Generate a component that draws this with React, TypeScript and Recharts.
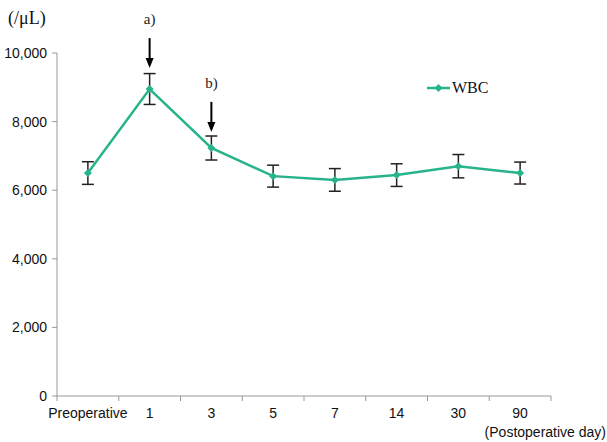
import React from 'react';
import { LineChart, Line, XAxis, YAxis, ErrorBar, ReferenceDot } from 'recharts';

const categories = ['Preoperative', '1', '3', '5', '7', '14', '30', '90'];
const wbcMean = [6500, 8950, 7230, 6410, 6300, 6440, 6700, 6500];
const wbcSd = [330, 450, 350, 320, 330, 330, 340, 320];
const yTicks = [0, 2000, 4000, 6000, 8000, 10000];

const data = categories.map((day, i) => ({ day, wbc: wbcMean[i], sd: wbcSd[i] }));

const GREEN = '#27b38b';
const PLOT_LEFT = 57;
const PLOT_RIGHT = 551;
const BAND = (PLOT_RIGHT - PLOT_LEFT) / categories.length;

const Diamond = (props: any) => {
  const { cx, cy } = props;
  if (cx == null || cy == null) return null;
  const r = 4;
  return <path d={`M${cx},${cy - r}L${cx + r},${cy}L${cx},${cy + r}L${cx - r},${cy}Z`} fill={GREEN} />;
};

const XTick = (props: any) => {
  const { x, y, payload, index, visibleTicksCount } = props;
  const left = x - BAND / 2;
  const top = y - 8;
  return (
    <g>
      <line x1={left} y1={top} x2={left} y2={top + 5} stroke="#999" />
      {index === visibleTicksCount - 1 && (
        <line x1={left + BAND} y1={top} x2={left + BAND} y2={top + 5} stroke="#999" />
      )}
      <text x={x} y={top + 22} textAnchor="middle" fontFamily="Liberation Sans, Arial" fontSize={14} fill="#111">
        {payload.value}
      </text>
    </g>
  );
};

const Arrow = (label: string) => (props: any) => {
  const { cx, cy } = props;
  return (
    <g>
      <line x1={cx} y1={cy - 30} x2={cx} y2={cy - 9} stroke="#000" strokeWidth={2} />
      <path d={`M${cx - 4},${cy - 10}L${cx + 4},${cy - 10}L${cx},${cy}Z`} fill="#000" />
      <text x={cx} y={cy - 44} textAnchor="middle" fontFamily="Liberation Serif, serif" fontSize={15} fill="#222">
        {label}
      </text>
    </g>
  );
};

const LegendContent = () => (
  <svg width={80} height={20}>
    <line x1={2} y1={10} x2={25} y2={10} stroke={GREEN} strokeWidth={2.5} />
    <path d="M13.5,6L17.5,10L13.5,14L9.5,10Z" fill={GREEN} />
    <text x={27} y={15} fontFamily="Liberation Serif, serif" fontSize={16} fill="#111">WBC</text>
  </svg>
);

export default function App() {
  return (
    <div style={{ position: 'absolute', left: 0, top: 0, width: 607, height: 442, background: '#fff' }}>
      <LineChart width={607} height={442} data={data} margin={{ top: 53, right: 607 - PLOT_RIGHT, bottom: 0, left: 0 }}>
        <XAxis
          dataKey="day"
          scale="band"
          height={46}
          axisLine={{ stroke: '#999' }}
          tickLine={false}
          tick={<XTick />}
          interval={0}
        />
        <YAxis
          width={PLOT_LEFT}
          domain={[0, 10000]}
          ticks={yTicks}
          interval={0}
          axisLine={{ stroke: '#999' }}
          tickLine={{ stroke: '#999' }}
          tickSize={5}
          tickMargin={5}
          tickFormatter={(v: number) => v.toLocaleString('en-US')}
          tick={{ fontFamily: 'Liberation Sans, Arial', fontSize: 14, fill: '#111' }}
        />
        <Line
          dataKey="wbc"
          name="WBC"
          stroke={GREEN}
          strokeWidth={2.5}
          dot={<Diamond />}
          activeDot={false}
          isAnimationActive={false}
        >
          <ErrorBar dataKey="sd" width={6} stroke="#222" strokeWidth={1.5} direction="y" />
        </Line>
        <ReferenceDot x="1" y={9560} ifOverflow="visible" shape={Arrow('a)')} />
        <ReferenceDot x="3" y={7700} ifOverflow="visible" shape={Arrow('b)')} />
      </LineChart>
      <div style={{ position: 'absolute', left: 425, top: 78 }}>
        <LegendContent />
      </div>
      <div style={{ position: 'absolute', left: 8, top: 8, fontFamily: 'Liberation Serif, serif', fontSize: 18, color: '#111' }}>
        (/μL)
      </div>
      <div style={{ position: 'absolute', right: 1, top: 424, fontFamily: 'Liberation Sans, Arial', fontSize: 14, color: '#111' }}>
        (Postoperative day)
      </div>
    </div>
  );
}
